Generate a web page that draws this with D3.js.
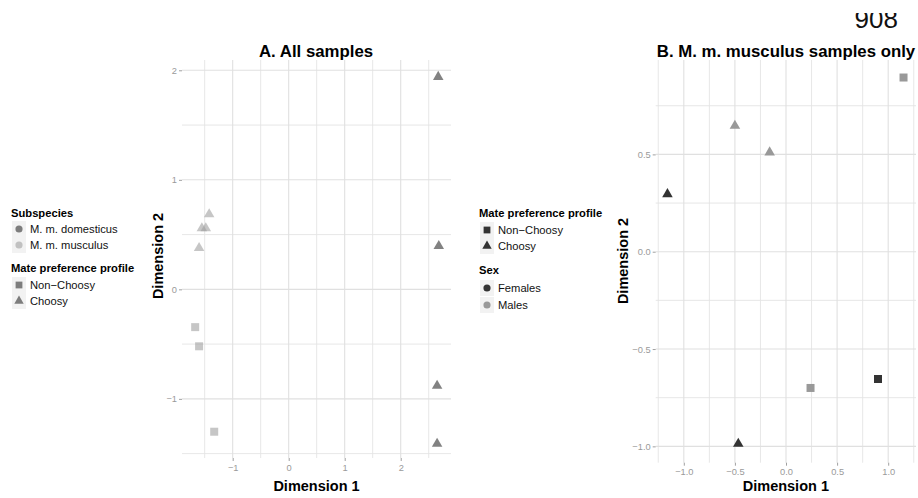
<!DOCTYPE html>
<html><head><meta charset="utf-8">
<script src="https://cdn.jsdelivr.net/npm/d3@7"></script>
<style>body{margin:0;background:#fff;} svg{display:block;font-family:"Liberation Sans",Arial,sans-serif;}</style>
</head><body>
<svg id="c" width="918" height="498"></svg>
<script>
// ---- Data ----
const panelA_x = [2.67, 2.68, 2.65, 2.65, -1.42, -1.55, -1.48, -1.60, -1.67, -1.60, -1.33];
const panelA_y = [1.94, 0.395, -0.88, -1.41, 0.685, 0.557, 0.557, 0.377, -0.345, -0.52, -1.30];
const panelA_subspecies = ["M. m. domesticus","M. m. domesticus","M. m. domesticus","M. m. domesticus",
  "M. m. musculus","M. m. musculus","M. m. musculus","M. m. musculus","M. m. musculus","M. m. musculus","M. m. musculus"];
const panelA_profile = ["Choosy","Choosy","Choosy","Choosy","Choosy","Choosy","Choosy","Choosy","Non\u2212Choosy","Non\u2212Choosy","Non\u2212Choosy"];

const panelB_x = [1.15, -0.50, -0.16, -1.16, 0.24, 0.90, -0.467];
const panelB_y = [0.895, 0.647, 0.51, 0.296, -0.70, -0.654, -0.987];
const panelB_sex = ["Males","Males","Males","Females","Males","Females","Females"];
const panelB_profile = ["Non\u2212Choosy","Choosy","Choosy","Choosy","Non\u2212Choosy","Non\u2212Choosy","Choosy"];

const A_xMajor = [-1, 0, 1, 2], A_xMinor = [-1.5, -0.5, 0.5, 1.5, 2.5];
const A_yMajor = [-1, 0, 1, 2], A_yMinor = [-1.5, -0.5, 0.5, 1.5];
const B_xMajor = [-1, -0.5, 0, 0.5, 1], B_xMinor = [-1.25, -0.75, -0.25, 0.25, 0.75, 1.25];
const B_yMajor = [-1, -0.5, 0, 0.5], B_yMinor = [-0.75, -0.25, 0.25, 0.75];

const subspeciesLevels = ["M. m. domesticus", "M. m. musculus"];
const profileLevels = ["Non\u2212Choosy", "Choosy"];
const sexLevels = ["Females", "Males"];

// ---- Drawing ----
const svg = d3.select("#c");
const fmtMinus = s => s.replace("-", "\u2212");

const subColor = d3.scaleOrdinal().domain(subspeciesLevels).range(["#2e2e2e", "#a0a0a0"]);
const sexColor = d3.scaleOrdinal().domain(sexLevels).range(["#333333", "#999999"]);
const shapeScale = d3.scaleOrdinal().domain(profileLevels).range([d3.symbolSquare, d3.symbolTriangle]);
const sizeScale = d3.scaleOrdinal().domain(profileLevels).range([64, 48]);
const legSize = d3.scaleOrdinal().domain(profileLevels).range([46, 38]);

function panel(opts) {
  const x = d3.scaleLinear().domain(opts.xd).range(opts.xr);
  const y = d3.scaleLinear().domain(opts.yd).range(opts.yr);
  const g = svg.append("g");
  g.selectAll(".vmin").data(opts.xMinor).join("line")
    .attr("x1", d => x(d)).attr("x2", d => x(d)).attr("y1", opts.yr[0]).attr("y2", opts.yr[1])
    .attr("stroke", "#e4e4e4").attr("stroke-width", 0.9);
  g.selectAll(".hmin").data(opts.yMinor).join("line")
    .attr("y1", d => y(d)).attr("y2", d => y(d)).attr("x1", opts.xr[0]).attr("x2", opts.xr[1])
    .attr("stroke", "#e4e4e4").attr("stroke-width", 0.9);
  g.selectAll(".vmaj").data(opts.xMajor).join("line")
    .attr("x1", d => x(d)).attr("x2", d => x(d)).attr("y1", opts.yr[0]).attr("y2", opts.yr[1])
    .attr("stroke", "#e0e0e0").attr("stroke-width", 1.1);
  g.selectAll(".hmaj").data(opts.yMajor).join("line")
    .attr("y1", d => y(d)).attr("y2", d => y(d)).attr("x1", opts.xr[0]).attr("x2", opts.xr[1])
    .attr("stroke", "#e0e0e0").attr("stroke-width", 1.1);

  const ax = g.append("g").attr("transform", `translate(0,${opts.yr[0]})`)
    .call(d3.axisBottom(x).tickValues(opts.xMajor).tickSize(3).tickPadding(3).tickFormat(opts.xfmt));
  const ay = g.append("g").attr("transform", `translate(${opts.xr[0]},0)`)
    .call(d3.axisLeft(y).tickValues(opts.yMajor).tickSize(3).tickPadding(2).tickFormat(opts.yfmt));
  [ax, ay].forEach(a => {
    a.select(".domain").remove();
    a.selectAll("line").attr("stroke", "#a0a0a0");
    a.selectAll("text").attr("fill", "#9a9a9a").style("font-size", "9.3px").style("font-family", "Liberation Sans, Arial, sans-serif");
  });

  g.selectAll(".pt").data(opts.data).join("path")
    .attr("transform", d => `translate(${x(d.x)},${y(d.y)})`)
    .attr("d", d => d3.symbol().type(shapeScale(d.profile)).size(sizeScale(d.profile))())
    .attr("fill", d => opts.color(d.c))
    .attr("fill-opacity", opts.opacity);

  svg.append("text").attr("x", opts.titleX).attr("y", 57).attr("text-anchor", "middle")
    .attr("font-weight", "bold").attr("font-size", 16.8).text(opts.title);
  svg.append("text").attr("x", (opts.xr[0] + opts.xr[1]) / 2).attr("y", 491).attr("text-anchor", "middle")
    .attr("font-weight", "bold").attr("font-size", 14.5).text("Dimension 1");
  svg.append("text").attr("transform", `translate(${opts.ytX},${opts.ytY}) rotate(-90)`)
    .attr("text-anchor", "middle").attr("font-weight", "bold").attr("font-size", 14.5).text("Dimension 2");
}

panel({
  xd: [-1.905, 2.898], xr: [182, 451], yd: [-1.54, 2.094], yr: [458, 60],
  xMajor: A_xMajor, xMinor: A_xMinor, yMajor: A_yMajor, yMinor: A_yMinor,
  xfmt: d => fmtMinus(d3.format("d")(d)), yfmt: d => fmtMinus(d3.format("d")(d)),
  data: panelA_x.map((v, i) => ({x: v, y: panelA_y[i], c: panelA_subspecies[i], profile: panelA_profile[i]})),
  color: subColor, opacity: 0.6, title: "A. All samples", titleX: 316, ytX: 163, ytY: 256
});
panel({
  xd: [-1.275, 1.272], xr: [655.7, 916], yd: [-1.084, 0.985], yr: [462.7, 60],
  xMajor: B_xMajor, xMinor: B_xMinor, yMajor: B_yMajor, yMinor: B_yMinor,
  xfmt: d => fmtMinus(d3.format(".1f")(d)), yfmt: d => fmtMinus(d3.format(".1f")(d)),
  data: panelB_x.map((v, i) => ({x: v, y: panelB_y[i], c: panelB_sex[i], profile: panelB_profile[i]})),
  color: sexColor, opacity: 1, title: "B. M. m. musculus samples only", titleX: 786, ytX: 628, ytY: 261
});

function legendBlock(x0, yTitle, title, items, itemY, symFn) {
  const g = svg.append("g");
  g.append("text").attr("x", x0).attr("y", yTitle + 4).attr("font-weight", "bold").attr("font-size", 11.2).text(title);
  items.forEach((it, i) => {
    const cy = itemY[i];
    g.append("rect").attr("x", x0 + 1).attr("y", cy - 8).attr("width", 14).attr("height", 16).attr("fill", "#f2f2f2");
    const s = symFn(it);
    g.append("path").attr("transform", `translate(${x0 + 8},${cy})`).attr("d", s.d).attr("fill", s.fill)
      .attr("fill-opacity", s.op);
    g.append("text").attr("x", x0 + 19).attr("y", cy + 4).attr("font-size", 11.2).attr("fill", "#111").text(it);
  });
}
legendBlock(11, 213, "Subspecies", subspeciesLevels, [229, 245],
  it => ({d: d3.symbol().type(d3.symbolCircle).size(40)(), fill: subColor(it), op: 0.6}));
legendBlock(11, 268, "Mate preference profile", profileLevels, [285, 301],
  it => ({d: d3.symbol().type(shapeScale(it)).size(legSize(it))(), fill: "#2e2e2e", op: 0.6}));
legendBlock(479, 213, "Mate preference profile", profileLevels, [230, 246],
  it => ({d: d3.symbol().type(shapeScale(it)).size(legSize(it))(), fill: "#333333", op: 1}));
legendBlock(479, 270, "Sex", sexLevels, [288, 305],
  it => ({d: d3.symbol().type(d3.symbolCircle).size(40)(), fill: sexColor(it), op: 1}));

// page number (clipped at top)
svg.append("clipPath").attr("id", "pg").append("rect").attr("x", 800).attr("y", 13).attr("width", 118).attr("height", 30);
svg.append("text").attr("x", 898).attr("y", 28).attr("text-anchor", "end").attr("font-size", 26)
  .attr("clip-path", "url(#pg)").attr("fill", "#111").text("908");
</script>
</body></html>
